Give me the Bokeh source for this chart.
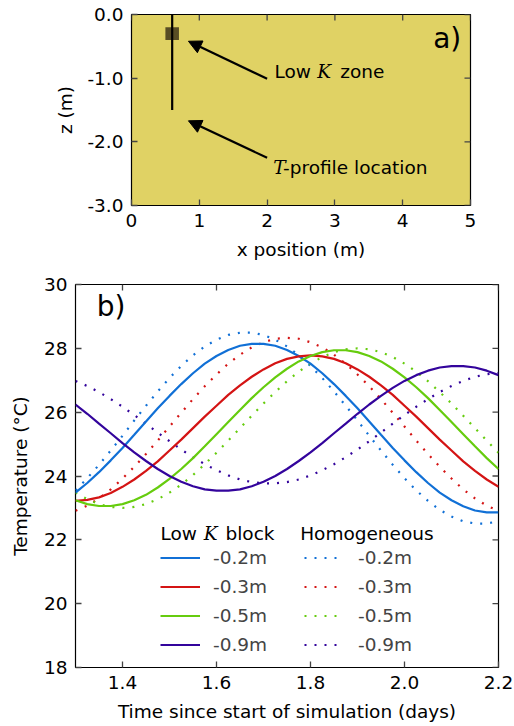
import math
from bokeh.plotting import figure
from bokeh.models import (Label, LinearAxis, FixedTicker, NumeralTickFormatter,
                          Legend, LegendItem, Arrow, NormalHead, ColumnDataSource)
from bokeh.embed import file_html
from bokeh.resources import INLINE

# ---------------- data ----------------
# panel a) domain sketch
block_x = [0.5, 0.7]
block_z = [-0.4, -0.2]
profile_x = [0.6, 0.6]
profile_z = [0.0, -1.5]

# panel b) temperature time series (days, deg C)
time_days = [1.300, 1.325, 1.350, 1.375, 1.400, 1.425, 1.450, 1.475, 1.500, 1.525,
             1.550, 1.575, 1.600, 1.625, 1.650, 1.675, 1.700, 1.725, 1.750, 1.775,
             1.800, 1.825, 1.850, 1.875, 1.900, 1.925, 1.950, 1.975, 2.000, 2.025,
             2.050, 2.075, 2.100, 2.125, 2.150, 2.175, 2.200]

lowk_02 = [23.48, 23.78, 24.12, 24.49, 24.88, 25.29, 25.71, 26.12, 26.51, 26.88,
           27.22, 27.52, 27.76, 27.95, 28.08, 28.14, 28.14, 28.08, 27.95, 27.76,
           27.52, 27.22, 26.88, 26.51, 26.12, 25.71, 25.29, 24.88, 24.49, 24.12,
           23.78, 23.48, 23.24, 23.05, 22.92, 22.86, 22.86]
lowk_03 = [23.22, 23.25, 23.33, 23.47, 23.66, 23.89, 24.16, 24.46, 24.80, 25.14,
           25.50, 25.86, 26.20, 26.54, 26.84, 27.11, 27.34, 27.53, 27.67, 27.75,
           27.78, 27.75, 27.67, 27.53, 27.34, 27.11, 26.84, 26.54, 26.20, 25.86,
           25.50, 25.14, 24.80, 24.46, 24.16, 23.89, 23.66]
lowk_05 = [23.24, 23.12, 23.06, 23.06, 23.12, 23.24, 23.41, 23.64, 23.91, 24.22,
           24.56, 24.93, 25.31, 25.69, 26.07, 26.44, 26.78, 27.09, 27.36, 27.59,
           27.76, 27.88, 27.94, 27.94, 27.88, 27.76, 27.59, 27.36, 27.09, 26.78,
           26.44, 26.07, 25.69, 25.31, 24.93, 24.56, 24.22]
lowk_09 = [26.24, 25.95, 25.64, 25.34, 25.03, 24.74, 24.47, 24.22, 24.00, 23.82,
           23.68, 23.58, 23.54, 23.54, 23.58, 23.68, 23.82, 24.00, 24.22, 24.47,
           24.74, 25.03, 25.34, 25.64, 25.95, 26.24, 26.51, 26.76, 26.98, 27.16,
           27.30, 27.40, 27.44, 27.44, 27.40, 27.30, 27.16]

homo_02 = [23.55, 23.93, 24.35, 24.80, 25.26, 25.74, 26.20, 26.65, 27.07, 27.45,
           27.78, 28.06, 28.27, 28.42, 28.49, 28.49, 28.42, 28.27, 28.06, 27.78,
           27.45, 27.07, 26.65, 26.20, 25.74, 25.26, 24.80, 24.35, 23.93, 23.55,
           23.22, 22.94, 22.73, 22.58, 22.51, 22.51, 22.58]
homo_03 = [22.91, 23.07, 23.30, 23.58, 23.92, 24.29, 24.69, 25.11, 25.55, 25.98,
           26.41, 26.81, 27.18, 27.52, 27.80, 28.03, 28.19, 28.30, 28.33, 28.30,
           28.19, 28.03, 27.80, 27.52, 27.18, 26.81, 26.41, 25.98, 25.55, 25.11,
           24.69, 24.29, 23.92, 23.58, 23.30, 23.07, 22.91]
homo_05 = [23.48, 23.27, 23.12, 23.03, 23.00, 23.03, 23.12, 23.27, 23.48, 23.73,
           24.03, 24.37, 24.73, 25.11, 25.50, 25.89, 26.27, 26.63, 26.97, 27.27,
           27.52, 27.73, 27.88, 27.97, 28.00, 27.97, 27.88, 27.73, 27.52, 27.27,
           26.97, 26.63, 26.27, 25.89, 25.50, 25.11, 24.73]
homo_09 = [26.98, 26.82, 26.63, 26.41, 26.17, 25.91, 25.64, 25.36, 25.09, 24.83,
           24.59, 24.37, 24.18, 24.02, 23.89, 23.81, 23.77, 23.77, 23.81, 23.89,
           24.02, 24.18, 24.37, 24.59, 24.83, 25.09, 25.36, 25.64, 25.91, 26.17,
           26.41, 26.63, 26.82, 26.98, 27.11, 27.19, 27.23]

depth_labels = ["-0.2m", "-0.3m", "-0.5m", "-0.9m"]
lowk_series = [lowk_02, lowk_03, lowk_05, lowk_09]
homo_series = [homo_02, homo_03, homo_05, homo_09]
colors = ["#1170d6", "#d41414", "#66cc0e", "#33049c"]

x_ticks_a = [0, 1, 2, 3, 4, 5]
z_ticks_a = [0.0, -1.0, -2.0, -3.0]
x_ticks_b = [1.4, 1.6, 1.8, 2.0, 2.2]
y_ticks_b = [18, 20, 22, 24, 26, 28, 30]

FONT = "DejaVu Sans"
MFONT = "DejaVu Serif"
FS = "18.5px"
TICKC = "#444444"


def make_axis(ticks, fmt):
    return LinearAxis(ticker=FixedTicker(ticks=ticks), formatter=NumeralTickFormatter(format=fmt),
                      axis_line_color=None, major_tick_in=6, major_tick_out=0,
                      minor_tick_in=0, minor_tick_out=0, major_tick_line_color=TICKC,
                      major_tick_line_width=1.3,
                      major_label_text_font=FONT, major_label_text_font_size=FS,
                      major_label_text_color="black",
                      axis_label_text_font=FONT, axis_label_text_font_size=FS,
                      axis_label_text_font_style="normal", axis_label_text_color="black")


def build(p, xt, yt, xfmt, yfmt, xr, yr):
    xb = make_axis(xt, xfmt)
    yl = make_axis(yt, yfmt)
    p.add_layout(xb, "below")
    p.add_layout(yl, "left")
    # mirrored inward ticks on the top and right edges
    p.ray(x=xt, y=[yr[1]] * len(xt), length=6, length_units="screen",
          angle=-math.pi / 2, line_color=TICKC, line_width=1.3)
    p.ray(x=[xr[1]] * len(yt), y=yt, length=6, length_units="screen",
          angle=math.pi, line_color=TICKC, line_width=1.3)
    p.outline_line_color = "black"
    p.outline_line_width = 1.2
    p.xgrid.visible = False
    p.ygrid.visible = False
    return xb, yl


def lab(p, x, y, text, italic=False, size=FS, align="left"):
    p.add_layout(Label(x=x, y=y, text=text,
                       text_font=MFONT if italic else FONT,
                       text_font_style="italic" if italic else "normal",
                       text_font_size=size, text_color="black",
                       text_baseline="middle", text_align=align))


# ---------------- panel a ----------------
xr_a, yr_a = (0, 5), (-3, 0)
pa = figure(width=514, height=262, x_range=xr_a, y_range=yr_a,
            output_backend="svg", toolbar_location=None, x_axis_location=None,
            y_axis_location=None,
            min_border_left=131, min_border_right=44, min_border_top=14,
            min_border_bottom=55)
pa.background_fill_color = "#e0d264"
xa, za = build(pa, x_ticks_a, z_ticks_a, "0", "0.0", xr_a, yr_a)
xa.major_label_standoff = 8
za.major_label_standoff = 8
xa.axis_label = "x position (m)"
xa.axis_label_standoff = 9
za.axis_label = "z (m)"
za.axis_label_standoff = 8

pa.quad(left=[block_x[0]], right=[block_x[1]], bottom=[block_z[0]], top=[block_z[1]],
        fill_color="#40361a", fill_alpha=0.85, line_color=None)
pa.line(profile_x, profile_z, line_color="black", line_width=2.2)

for (x0, y0, x1, y1) in [(2.0, -1.01, 0.84, -0.42), (2.0, -2.25, 0.84, -1.67)]:
    pa.add_layout(Arrow(end=NormalHead(size=13, fill_color="black", line_color="black"),
                        x_start=x0, y_start=y0, x_end=x1, y_end=y1,
                        line_color="black", line_width=2.2))

lab(pa, 2.11, -0.90, "Low")
lab(pa, 2.74, -0.90, "K", italic=True)
lab(pa, 3.08, -0.90, "zone")
lab(pa, 2.09, -2.40, "T", italic=True)
lab(pa, 2.235, -2.40, "-profile location")
lab(pa, 4.45, -0.37, "a)", size="28px")

# ---------------- panel b ----------------
xr_b, yr_b = (1.3, 2.2), (18, 30)
pb = figure(width=514, height=464, x_range=xr_b, y_range=yr_b,
            output_backend="svg", toolbar_location=None, x_axis_location=None,
            y_axis_location=None,
            min_border_left=75, min_border_right=16, min_border_top=22,
            min_border_bottom=59)
xb, yb = build(pb, x_ticks_b, y_ticks_b, "0.0", "0", xr_b, yr_b)
xb.axis_label = "Time since start of simulation (days)"
yb.axis_label = "Temperature (\u00b0C)"
xb.major_label_standoff = 8
yb.major_label_standoff = 8
xb.axis_label_standoff = 9
yb.axis_label_standoff = 10

lowk_items = []
homo_items = []
for lbl, ys_h, c in zip(depth_labels, homo_series, colors):
    src = ColumnDataSource(dict(t=time_days, hm=ys_h))
    rh = pb.line("t", "hm", source=src, line_color=c, line_width=2.2,
                 line_dash="2 8", line_cap="butt")
    homo_items.append(LegendItem(label=lbl, renderers=[rh]))
for lbl, ys_l, c in zip(depth_labels, lowk_series, colors):
    src = ColumnDataSource(dict(t=time_days, lk=ys_l))
    rl = pb.line("t", "lk", source=src, line_color=c, line_width=2.2)
    lowk_items.append(LegendItem(label=lbl, renderers=[rl]))

for items, loc, standoff in [(lowk_items, (85, 12), 13), (homo_items, (229, 12), 14)]:
    lg = Legend(items=items, location=loc, padding=0, margin=0, spacing=8,
                glyph_width=40, glyph_height=19, label_height=19,
                label_standoff=standoff, label_text_font=FONT,
                label_text_font_size=FS, border_line_color=None,
                background_fill_alpha=0.0)
    pb.add_layout(lg, "center")

lab(pb, 1.481, 22.2, "Low")
lab(pb, 1.573, 22.2, "K", italic=True)
lab(pb, 1.619, 22.2, "block")
lab(pb, 1.778, 22.2, "Homogeneous")
lab(pb, 1.345, 29.3, "b)", size="28px")

open("out.html", "w").write(file_html([pa, pb], INLINE))
